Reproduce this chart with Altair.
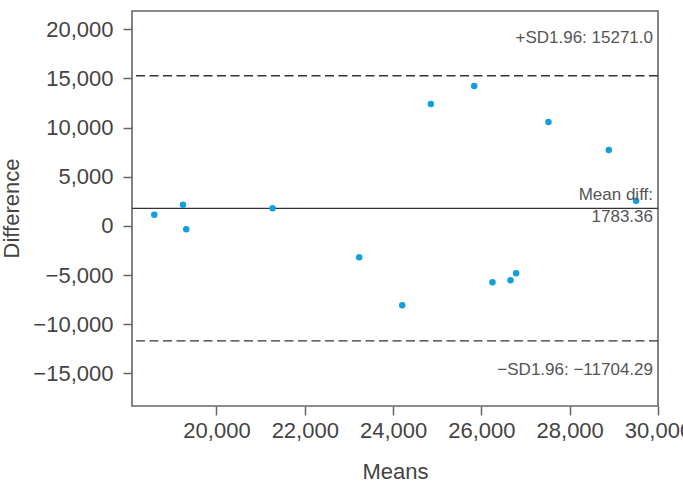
import altair as alt
import pandas as pd

# Bland-Altman data: mean of the two measurements vs. their difference
means = [18592, 19242, 19316, 21270, 23233, 24207, 24856, 25837,
         26251, 26659, 26787, 27519, 28886, 29504]
diffs = [1120, 2138, -336, 1802, -3187, -8075, 12393, 14226,
         -5733, -5529, -4817, 10560, 7709, 2546]

mean_diff = 1783.36
upper_loa = 15271.0
lower_loa = -11704.29

x_ticks = [20000, 22000, 24000, 26000, 28000, 30000]
y_ticks = [-15000, -10000, -5000, 0, 5000, 10000, 15000, 20000]

FONT = "Liberation Sans"
AX_COLOR = "#666666"
TXT_COLOR = "#444444"

pts = pd.DataFrame({"Means": means, "Difference": diffs})

x_scale = alt.Scale(domain=[18087, 30000], nice=False, zero=False)
y_scale = alt.Scale(domain=[-18330, 21864], nice=False, zero=False)

x_axis = alt.Axis(values=x_ticks, format=",.0f", grid=False, domain=False,
                  tickSize=9, tickColor=AX_COLOR, tickWidth=1.5,
                  labelFont=FONT, labelFontSize=22, labelColor=TXT_COLOR,
                  labelPadding=5, labelBound=False, labelFlush=False,
                  labelOverlap=False, title="Means", titleFont=FONT,
                  titleFontSize=22, titleFontWeight="normal",
                  titleColor=TXT_COLOR, titleBaseline="alphabetic", titleY=72)
y_axis = alt.Axis(values=y_ticks, format=",.0f", grid=False, domain=False,
                  tickSize=9, tickColor=AX_COLOR, tickWidth=1.5,
                  labelFont=FONT, labelFontSize=22, labelColor=TXT_COLOR,
                  labelPadding=10, labelBound=False, labelFlush=False,
                  labelOverlap=False, title="Difference", titleFont=FONT,
                  titleFontSize=22, titleFontWeight="normal",
                  titleColor=TXT_COLOR, titleAngle=270, titleX=-121,
                  titleY=197, titleAlign="center", titleBaseline="middle")

points = alt.Chart(pts).mark_circle(size=42, color="#129fdf", opacity=1).encode(
    x=alt.X("Means:Q", scale=x_scale, axis=x_axis),
    y=alt.Y("Difference:Q", scale=y_scale, axis=y_axis),
)

lines_df = pd.DataFrame({"y": [upper_loa, lower_loa], "kind": ["upper", "lower"]})
loa = alt.Chart(lines_df).mark_rule(color="#333333", strokeWidth=1.4,
                                    strokeDash=[9, 4.5]).encode(
    y=alt.Y("y:Q", scale=y_scale)
)
mean_rule = alt.Chart(pd.DataFrame({"y": [mean_diff]})).mark_rule(
    color="#333333", strokeWidth=1.4).encode(y=alt.Y("y:Q", scale=y_scale))


def note(value, text, dy):
    df = pd.DataFrame({"x": [30000], "y": [value], "t": [text]})
    return alt.Chart(df).mark_text(
        align="right", baseline="alphabetic", dx=-5, dy=dy,
        font=FONT, fontSize=17, color="#555555",
    ).encode(x=alt.X("x:Q", scale=x_scale), y=alt.Y("y:Q", scale=y_scale),
             text="t:N")


upper_txt = note(upper_loa, f"+SD1.96: {upper_loa:.1f}", -33)
mean_txt1 = note(mean_diff, "Mean diff:", -8)
mean_txt2 = note(mean_diff, f"{mean_diff:.2f}", 14)
lower_txt = note(lower_loa, "\u2212SD1.96: \u2212" + f"{abs(lower_loa):.2f}", 34)

chart = alt.layer(
    loa, mean_rule, points, upper_txt, mean_txt1, mean_txt2, lower_txt
).properties(
    width=526, height=395,
    autosize="none",
    padding={"left": 132, "top": 11, "right": 25, "bottom": 80},
    background="white",
).configure_view(stroke=AX_COLOR, strokeWidth=1.6)

chart.save("out.html", embed_options={"renderer": "svg", "actions": False})
